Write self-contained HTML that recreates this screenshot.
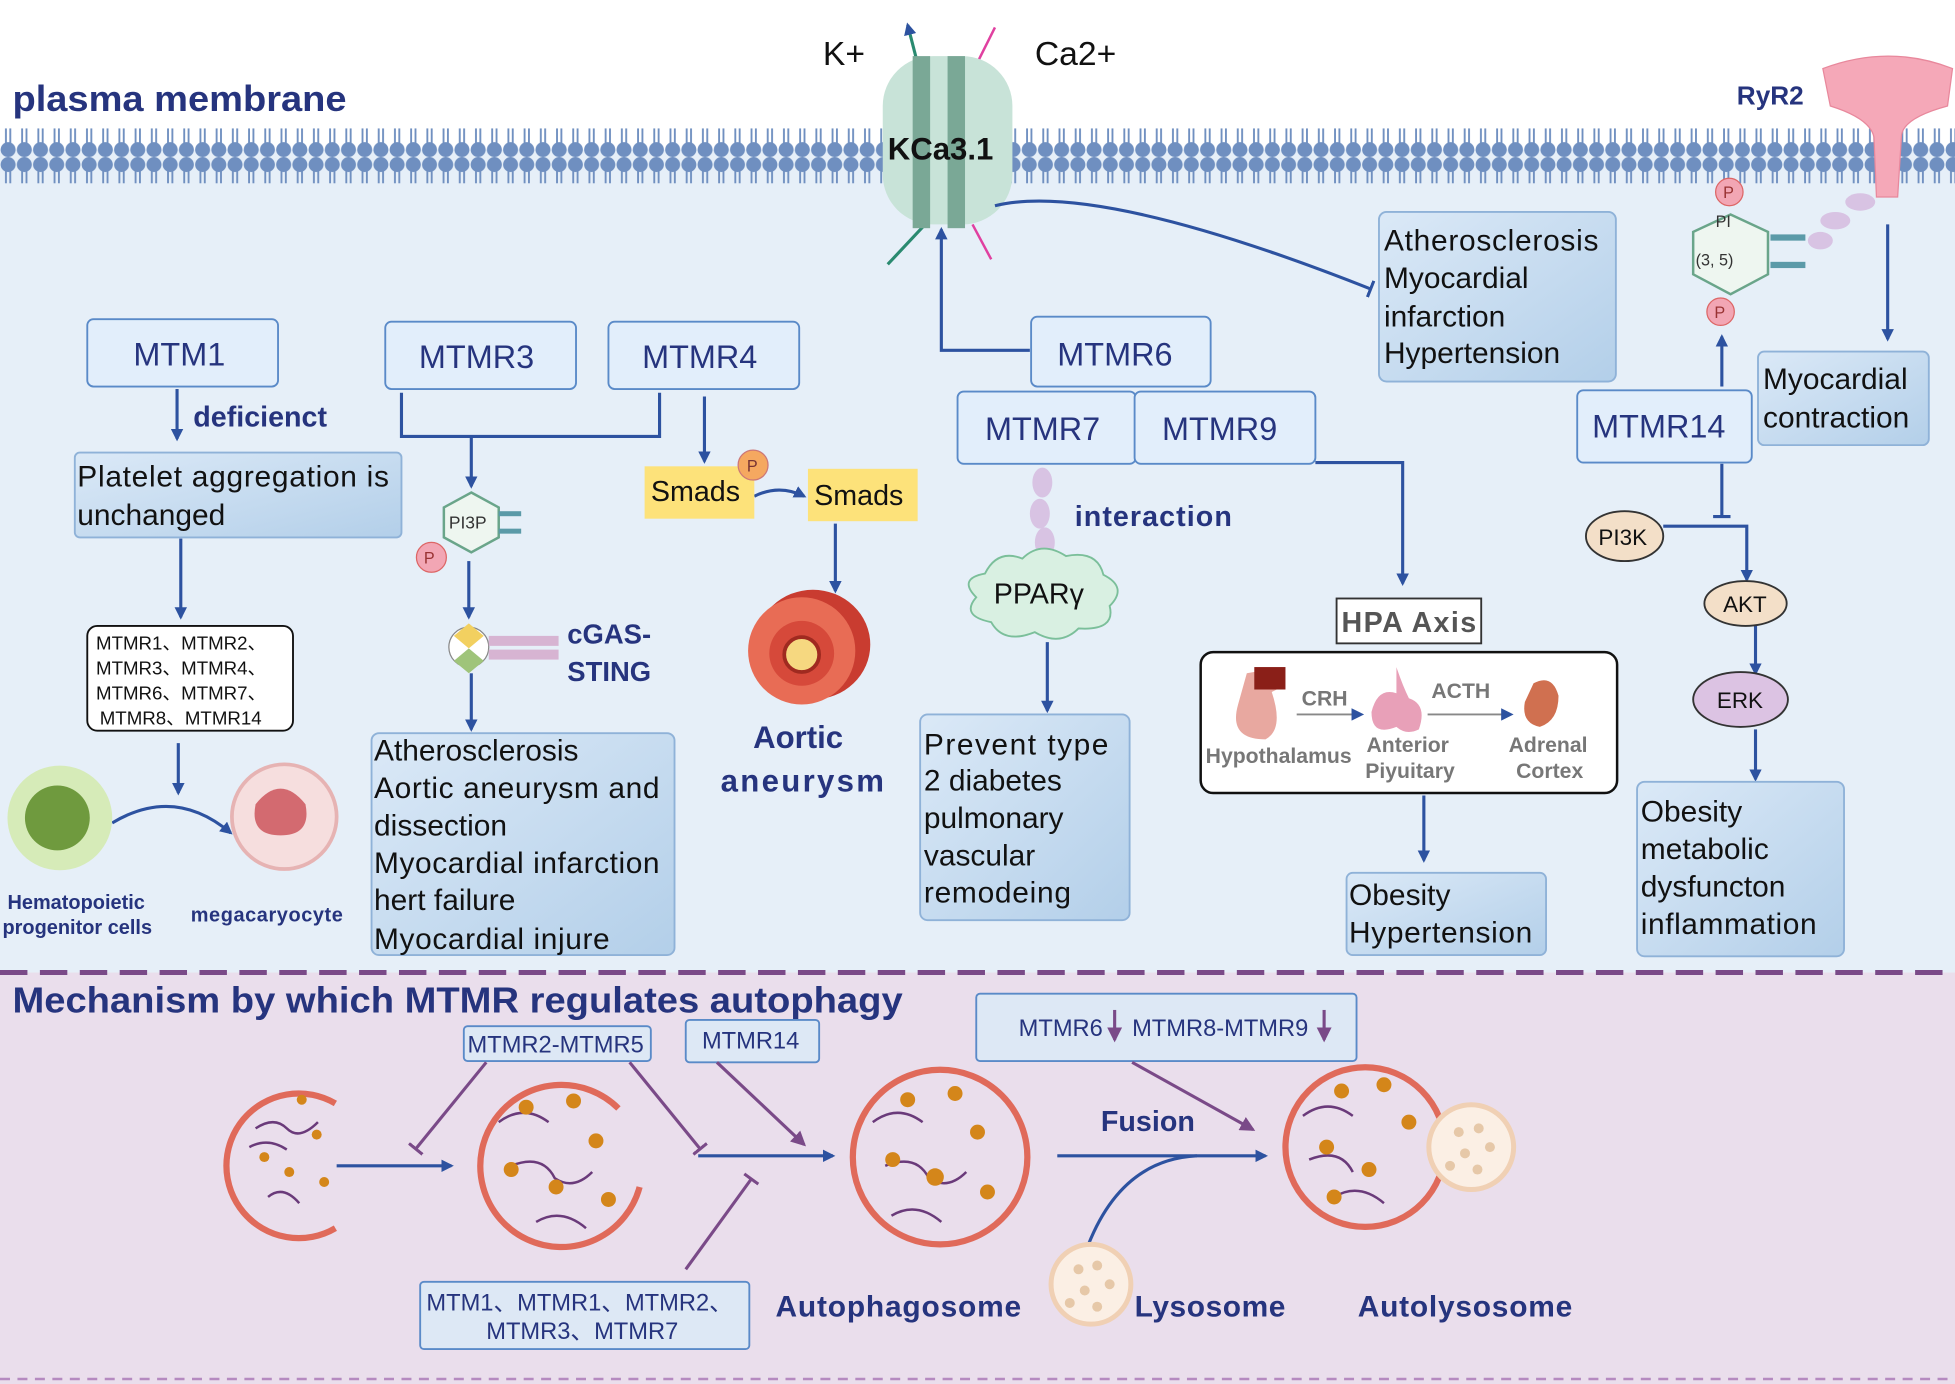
<!DOCTYPE html>
<html><head><meta charset="utf-8"><style>
html,body{margin:0;padding:0;background:#fff}
svg{display:block}
text{font-family:"Liberation Sans",Arial,sans-serif}
</style></head><body>
<svg width="1955" height="1384" viewBox="0 0 1568 1110" preserveAspectRatio="none" xmlns="http://www.w3.org/2000/svg">
<defs>
<linearGradient id="bx" x1="0" y1="0" x2="1" y2="1"><stop offset="0" stop-color="#dbe9f7"/><stop offset="1" stop-color="#b3cfe9"/></linearGradient>
<pattern id="mem" x="0" y="0" width="13" height="42" patternUnits="userSpaceOnUse">
<rect x="4" y="6" width="1.5" height="30" fill="#6f8fc0"/><rect x="7.5" y="6" width="1.5" height="30" fill="#6f8fc0"/>
<circle cx="6.5" cy="6" r="6" fill="#6f8fc0"/><circle cx="6.5" cy="36" r="6" fill="#6f8fc0"/>
</pattern>
<marker id="ab" markerWidth="10" markerHeight="10" refX="8" refY="5" orient="auto" markerUnits="userSpaceOnUse"><path d="M0,0 L10,5 L0,10 z" fill="#2d52a0"/></marker>
<marker id="ap" markerWidth="12" markerHeight="12" refX="10" refY="6" orient="auto" markerUnits="userSpaceOnUse"><path d="M0,0 L12,6 L0,12 z" fill="#7a4a88"/></marker>
<marker id="tb" markerWidth="4" markerHeight="14" refX="2" refY="7" orient="auto" markerUnits="userSpaceOnUse"><rect x="0" y="0" width="2.5" height="14" fill="#2d52a0"/></marker>
<marker id="tp" markerWidth="4" markerHeight="14" refX="2" refY="7" orient="auto" markerUnits="userSpaceOnUse"><rect x="0" y="0" width="2.5" height="14" fill="#7a4a88"/></marker>
</defs>
<rect x="0" y="120" width="1568" height="660" fill="#e6eff8"/>
<rect x="0" y="780" width="1568" height="330" fill="#eadeec"/>
<line x1="0" y1="780" x2="1568" y2="780" stroke="#7a4a88" stroke-width="4" stroke-dasharray="22,10"/>
<line x1="0" y1="1106" x2="1568" y2="1106" stroke="#b58ac0" stroke-width="2" stroke-dasharray="8,6"/>
<rect x="0" y="103" width="1568" height="44" fill="url(#mem)"/>
<text x="10" y="89" font-size="29" font-weight="bold" fill="#26347e" textLength="268" lengthAdjust="spacingAndGlyphs">plasma membrane</text>

<g>
<line x1="712" y1="212" x2="742" y2="180" stroke="#2a8a70" stroke-width="2.5"/>
<line x1="737" y1="55" x2="728" y2="20" stroke="#2a8a70" stroke-width="2.5" marker-end="url(#ab)"/>
<line x1="785" y1="48" x2="798" y2="22" stroke="#e040a0" stroke-width="2"/>
<line x1="780" y1="180" x2="795" y2="208" stroke="#e040a0" stroke-width="2"/>
<rect x="708" y="45" width="104" height="135" rx="40" fill="#c8e3d8"/>
<rect x="732" y="45" width="14" height="138" fill="#7aa896"/><rect x="760" y="45" width="14" height="138" fill="#7aa896"/>
<text x="712" y="128" font-size="25" font-weight="bold" fill="#111">KCa3.1</text>
</g>
<text x="660" y="52" font-size="27" fill="#111">K+</text>
<text x="830" y="52" font-size="27" fill="#111">Ca2+</text>
<path d="M1462,55 Q1515,35 1566,55 L1562,85 Q1525,95 1525,110 L1522,158 L1505,158 L1503,110 Q1500,95 1468,85 z" fill="#f5a8b8" stroke="#e8889c"/>
<text x="1393" y="84" font-size="21" font-weight="bold" fill="#26347e">RyR2</text>
<g fill="#d8c3e3"><ellipse cx="1492" cy="162" rx="12" ry="7"/><ellipse cx="1472" cy="177" rx="12" ry="7"/><ellipse cx="1460" cy="193" rx="10" ry="7"/></g>
<polygon points="1388,172 1418,186 1418,220 1388,236 1358,220 1358,186" fill="#eef6f0" stroke="#6aa58a" stroke-width="2"/>
<text x="1376" y="182" font-size="13" fill="#333">PI</text><text x="1360" y="213" font-size="13" fill="#333">(3, 5)</text>
<rect x="1420" y="188" width="28" height="5" fill="#5b9aa8"/><rect x="1420" y="210" width="28" height="5" fill="#5b9aa8"/>
<circle cx="1387" cy="154" r="11" fill="#f2a6b4" stroke="#d66"/><text x="1382" y="159" font-size="13" fill="#933">P</text>
<circle cx="1380" cy="250" r="11" fill="#f2a6b4" stroke="#d66"/><text x="1375" y="255" font-size="13" fill="#933">P</text>
<line x1="1514" y1="180" x2="1514" y2="272" stroke="#2d52a0" stroke-width="2.5" marker-end="url(#ab)"/>

<g stroke="#2d52a0" stroke-width="2.5" fill="none">
<polyline points="826,281 755,281 755,184" marker-end="url(#ab)"/>
<path d="M798,165 Q880,145 1100,232" marker-end="url(#tb)"/>
<line x1="142" y1="312" x2="142" y2="352" marker-end="url(#ab)"/>
<line x1="145" y1="432" x2="145" y2="495" marker-end="url(#ab)"/>
<line x1="143" y1="596" x2="143" y2="636" marker-end="url(#ab)"/>
<path d="M90,660 Q140,630 185,668" marker-end="url(#ab)"/>
<polyline points="322,315 322,350 529,350 529,315"/>
<line x1="378" y1="350" x2="378" y2="390" marker-end="url(#ab)"/>
<line x1="376" y1="450" x2="376" y2="495" marker-end="url(#ab)"/>
<line x1="378" y1="540" x2="378" y2="585" marker-end="url(#ab)"/>
<line x1="565" y1="318" x2="565" y2="370" marker-end="url(#ab)"/>
<path d="M605,398 Q625,388 645,398" marker-end="url(#ab)"/>
<line x1="670" y1="420" x2="670" y2="474" marker-end="url(#ab)"/>
<polyline points="1055,371 1125,371 1125,468" marker-end="url(#ab)"/>
<line x1="840" y1="515" x2="840" y2="570" marker-end="url(#ab)"/>
<line x1="1142" y1="638" x2="1142" y2="690" marker-end="url(#ab)"/>
<line x1="1381" y1="310" x2="1381" y2="270" marker-end="url(#ab)"/>
<line x1="1381" y1="372" x2="1381" y2="415" marker-end="url(#tb)"/>
<polyline points="1334,422 1401,422 1401,465" marker-end="url(#ab)"/>
<line x1="1408" y1="502" x2="1408" y2="540" marker-end="url(#ab)"/>
<line x1="1408" y1="585" x2="1408" y2="625" marker-end="url(#ab)"/>
</g>

<g stroke="#5a8ac8" stroke-width="1.5">
<rect x="70" y="256" width="153" height="54" rx="5" fill="#e2eefb"/>
<rect x="309" y="258" width="153" height="54" rx="5" fill="#e2eefb"/>
<rect x="488" y="258" width="153" height="54" rx="5" fill="#e2eefb"/>
<rect x="827" y="254" width="144" height="56" rx="5" fill="#e2eefb"/>
<rect x="768" y="314" width="143" height="58" rx="5" fill="#e2eefb"/>
<rect x="910" y="314" width="145" height="58" rx="5" fill="#e2eefb"/>
<rect x="1265" y="313" width="140" height="58" rx="5" fill="#e2eefb"/>
</g>
<g font-size="26" fill="#26347e">
<text x="107" y="293">MTM1</text><text x="336" y="295">MTMR3</text><text x="515" y="295">MTMR4</text>
<text x="848" y="293">MTMR6</text><text x="790" y="353">MTMR7</text><text x="932" y="353">MTMR9</text><text x="1277" y="351">MTMR14</text>
</g>
<g stroke="#8fb2d8" stroke-width="1.5" fill="url(#bx)">
<rect x="60" y="363" width="262" height="68" rx="4"/>
<rect x="1106" y="170" width="190" height="136" rx="6"/>
<rect x="1410" y="282" width="137" height="75" rx="5"/>
<rect x="298" y="588" width="243" height="178" rx="6"/>
<rect x="738" y="573" width="168" height="165" rx="6"/>
<rect x="1080" y="700" width="160" height="66" rx="5"/>
<rect x="1313" y="627" width="166" height="140" rx="6"/>
</g>
<g font-size="24" fill="#111">
<text x="62" y="390" textLength="250">Platelet aggregation is</text><text x="62" y="421">unchanged</text>
<text x="1110" y="201" textLength="172">Atherosclerosis</text><text x="1110" y="231">Myocardial</text><text x="1110" y="262">infarction</text><text x="1110" y="291">Hypertension</text>
<text x="1414" y="312">Myocardial</text><text x="1414" y="343">contraction</text>
<text x="300" y="610">Atherosclerosis</text><text x="300" y="640" textLength="229">Aortic aneurysm and</text><text x="300" y="670">dissection</text><text x="300" y="700" textLength="229">Myocardial infarction</text><text x="300" y="730">hert failure</text><text x="300" y="761" textLength="189">Myocardial injure</text>
<text x="741" y="605" textLength="148">Prevent  type</text><text x="741" y="634">2 diabetes</text><text x="741" y="664">pulmonary</text><text x="741" y="694">vascular</text><text x="741" y="724" textLength="118">remodeing</text>
<text x="1082" y="726">Obesity</text><text x="1082" y="756" textLength="147">Hypertension</text>
<text x="1316" y="659">Obesity</text><text x="1316" y="689">metabolic</text><text x="1316" y="719">dysfuncton</text><text x="1316" y="749" textLength="141">inflammation</text>
</g>
<text x="155" y="342" font-size="23" font-weight="bold" fill="#26347e">deficienct</text>
<rect x="70" y="502" width="165" height="84" rx="8" fill="#fff" stroke="#111" stroke-width="1.5"/>
<g font-size="15" fill="#111"><text x="77" y="521">MTMR1、MTMR2、</text><text x="77" y="541">MTMR3、MTMR4、</text><text x="77" y="561">MTMR6、MTMR7、</text><text x="80" y="581">MTMR8、MTMR14</text></g>
<circle cx="48" cy="656" r="42" fill="#d6ebb8"/><circle cx="46" cy="656" r="26" fill="#6f9a3e"/>
<circle cx="228" cy="655" r="42" fill="#f6dede" stroke="#e6b3b3" stroke-width="3"/><path d="M205,645 q20,-25 40,0 q5,25 -20,25 q-25,0 -20,-25z" fill="#d36a70"/>
<text x="6" y="729" font-size="16" font-weight="bold" fill="#26347e">Hematopoietic</text>
<text x="2" y="749" font-size="16" font-weight="bold" fill="#26347e">progenitor cells</text>
<text x="153" y="739" font-size="16" font-weight="bold" fill="#26347e" textLength="122">megacaryocyte</text>
<polygon points="378,395 400,407 400,431 378,443 356,431 356,407" fill="#eef6f0" stroke="#6aa58a" stroke-width="2"/>
<text x="360" y="424" font-size="14" fill="#333">PI3P</text>
<rect x="400" y="410" width="18" height="4" fill="#5b9aa8"/><rect x="400" y="424" width="18" height="4" fill="#5b9aa8"/>
<circle cx="346" cy="447" r="12" fill="#f2a6b4" stroke="#d66"/><text x="340" y="452" font-size="13" fill="#933">P</text>
<circle cx="376" cy="519" r="16" fill="#fff" stroke="#888"/>
<polygon points="376,500 388,510 376,520 364,510" fill="#f2d060"/><polygon points="376,520 388,530 376,540 364,530" fill="#9fc47a"/>
<rect x="392" y="510" width="56" height="8" fill="#d7b4d2"/><rect x="392" y="521" width="56" height="8" fill="#d7b4d2"/>
<text x="455" y="516" font-size="22" font-weight="bold" fill="#26347e">cGAS-</text><text x="455" y="546" font-size="22" font-weight="bold" fill="#26347e">STING</text>
<rect x="517" y="374" width="88" height="42" fill="#fde27a"/><text x="522" y="402" font-size="23" fill="#111">Smads</text>
<rect x="648" y="376" width="88" height="42" fill="#fde27a"/><text x="653" y="405" font-size="23" fill="#111">Smads</text>
<circle cx="604" cy="373" r="12" fill="#f5a860" stroke="#c77"/><text x="599" y="378" font-size="13" fill="#733">P</text>
<ellipse cx="652" cy="517" rx="46" ry="44" fill="#c93c30"/>
<circle cx="643" cy="522" r="43" fill="#e86c55"/><circle cx="643" cy="524" r="26" fill="#d6493a"/><circle cx="643" cy="525" r="14" fill="#f6d880" stroke="#a02a20" stroke-width="3"/>
<text x="604" y="600" font-size="25" font-weight="bold" fill="#26347e">Aortic</text>
<text x="578" y="635" font-size="25" font-weight="bold" fill="#26347e" textLength="131">aneurysm</text>
<g fill="#d8c3e3"><ellipse cx="836" cy="387" rx="8" ry="12"/><ellipse cx="834" cy="412" rx="8" ry="12"/><ellipse cx="838" cy="435" rx="8" ry="12"/></g>
<text x="862" y="422" font-size="23" font-weight="bold" fill="#26347e" textLength="126">interaction</text>
<path d="M790,460 q10,-20 30,-12 q15,-15 35,-2 q25,-5 30,15 q20,10 5,25 q5,20 -25,18 q-15,15 -35,3 q-25,10 -35,-8 q-25,-5 -12,-20 q-15,-15 7,-19z" fill="#d9f0e2" stroke="#7bbf9a" stroke-width="1.5"/>
<text x="797" y="484" font-size="23" fill="#111">PPARγ</text>
<rect x="1072" y="480" width="116" height="36" fill="#fff" stroke="#333" stroke-width="1.5"/>
<text x="1076" y="507" font-size="23" font-weight="bold" fill="#555" textLength="108">HPA Axis</text>
<rect x="963" y="523" width="334" height="113" rx="10" fill="#fff" stroke="#111" stroke-width="2"/>
<path d="M1000,540 l28,-5 l2,15 l-10,5 q10,30 -5,38 q-30,0 -22,-28z" fill="#e8a8a0"/><rect x="1006" y="535" width="25" height="18" fill="#8a1f18"/>
<path d="M1120,535 q5,15 10,25 q15,5 8,25 q-10,5 -18,-2 q-20,8 -20,-12 q5,-20 20,-15z" fill="#e8a0b8"/>
<path d="M1230,548 q15,-8 20,10 q0,20 -15,25 q-15,-3 -12,-20z" fill="#d07050"/>
<line x1="1040" y1="573" x2="1092" y2="573" stroke="#888" stroke-width="1.5" marker-end="url(#ab)"/>
<line x1="1145" y1="573" x2="1212" y2="573" stroke="#888" stroke-width="1.5" marker-end="url(#ab)"/>
<g font-size="17" font-weight="bold" fill="#777">
<text x="1044" y="566">CRH</text><text x="1148" y="560">ACTH</text>
<text x="967" y="612">Hypothalamus</text><text x="1096" y="603">Anterior</text><text x="1095" y="624">Piyuitary</text>
<text x="1210" y="603">Adrenal</text><text x="1216" y="624">Cortex</text>
</g>
<ellipse cx="1303" cy="430" rx="31" ry="20" fill="#f3dfc8" stroke="#333" stroke-width="1.5"/><text x="1282" y="437" font-size="18" fill="#111">PI3K</text>
<ellipse cx="1400" cy="484" rx="33" ry="18" fill="#f3dfc8" stroke="#333" stroke-width="1.5"/><text x="1382" y="491" font-size="18" fill="#111">AKT</text>
<ellipse cx="1396" cy="561" rx="38" ry="22" fill="#dcc3e3" stroke="#333" stroke-width="1.5"/><text x="1377" y="568" font-size="18" fill="#111">ERK</text>

<text x="10" y="812" font-size="29" font-weight="bold" fill="#26347e" textLength="714" lengthAdjust="spacingAndGlyphs">Mechanism by which MTMR regulates autophagy</text>
<g fill="#dde8f5" stroke="#5a8ac8" stroke-width="1.5">
<rect x="372" y="823" width="150" height="28" rx="3"/><rect x="550" y="818" width="107" height="34" rx="3"/>
<rect x="783" y="797" width="305" height="54" rx="3"/><rect x="337" y="1028" width="264" height="54" rx="3"/>
</g>
<g font-size="19" fill="#26347e">
<text x="375" y="844">MTMR2-MTMR5</text><text x="563" y="841">MTMR14</text>
<text x="817" y="831">MTMR6</text><text x="908" y="831">MTMR8-MTMR9</text>
<text x="342" y="1051">MTM1、MTMR1、MTMR2、</text><text x="390" y="1074">MTMR3、MTMR7</text>
</g>
<g stroke="#7a4a88" stroke-width="2.5" fill="none">
<line x1="894" y1="810" x2="894" y2="834" marker-end="url(#ap)"/>
<line x1="1062" y1="810" x2="1062" y2="834" marker-end="url(#ap)"/>
<line x1="390" y1="852" x2="333" y2="922" marker-end="url(#tp)"/>
<line x1="505" y1="852" x2="562" y2="922" marker-end="url(#tp)"/>
<line x1="575" y1="852" x2="645" y2="918" marker-end="url(#ap)"/>
<line x1="550" y1="1018" x2="603" y2="945" marker-end="url(#tp)"/>
<line x1="908" y1="852" x2="1005" y2="906" marker-end="url(#ap)"/>
</g>
<g stroke="#2d52a0" stroke-width="2.5" fill="none">
<line x1="270" y1="935" x2="362" y2="935" marker-end="url(#ab)"/>
<line x1="560" y1="927" x2="668" y2="927" marker-end="url(#ab)"/>
<line x1="848" y1="927" x2="1015" y2="927" marker-end="url(#ab)"/>
<path d="M873,998 Q900,930 960,927"/>
</g>
<text x="883" y="907" font-size="23" font-weight="bold" fill="#26347e">Fusion</text>
<g stroke="#e06a5a" stroke-width="5" fill="none">
<path d="M269,885 A58,58 0 1 0 269,985"/>
<path d="M496,889 A65,65 0 1 0 513,952"/>
<circle cx="754" cy="928" r="70"/>
<circle cx="1095" cy="920" r="64"/>
</g>
<g stroke="#6a3a7a" stroke-width="2" fill="none">
<path d="M205,905 q15,-10 25,0 q10,10 25,-5"/><path d="M200,920 q15,-8 30,2"/><path d="M215,960 q12,-10 25,5"/>
<path d="M400,900 q20,-15 40,0"/><path d="M410,935 q25,-10 35,10 q15,10 30,-5"/><path d="M430,980 q20,-12 40,5"/>
<path d="M700,900 q20,-15 40,0"/><path d="M710,935 q25,-10 35,10 q15,10 30,-5"/><path d="M715,975 q20,-12 40,5"/>
<path d="M1045,895 q20,-15 40,0"/><path d="M1050,930 q25,-10 35,10"/><path d="M1070,960 q20,-12 40,5"/>
</g>
<g fill="#d4861a">
<circle cx="242" cy="882" r="4"/><circle cx="232" cy="940" r="4"/><circle cx="260" cy="948" r="4"/><circle cx="212" cy="928" r="4"/><circle cx="254" cy="910" r="4"/>
<circle cx="422" cy="888" r="6"/><circle cx="460" cy="883" r="6"/><circle cx="410" cy="938" r="6"/><circle cx="478" cy="915" r="6"/><circle cx="446" cy="952" r="6"/><circle cx="488" cy="962" r="6"/>
<circle cx="728" cy="882" r="6"/><circle cx="766" cy="877" r="6"/><circle cx="716" cy="930" r="6"/><circle cx="784" cy="908" r="6"/><circle cx="750" cy="944" r="7"/><circle cx="792" cy="956" r="6"/>
<circle cx="1076" cy="875" r="6"/><circle cx="1110" cy="870" r="6"/><circle cx="1064" cy="920" r="6"/><circle cx="1130" cy="900" r="6"/><circle cx="1098" cy="938" r="6"/><circle cx="1070" cy="960" r="6"/>
</g>
<circle cx="1180" cy="920" r="34" fill="#fbefe4" stroke="#f0d0b4" stroke-width="4"/>
<circle cx="875" cy="1030" r="32" fill="#fbefe4" stroke="#f0d0b4" stroke-width="4"/>
<g fill="#e6c8a8"><circle cx="1170" cy="908" r="4"/><circle cx="1186" cy="905" r="4"/><circle cx="1195" cy="920" r="4"/><circle cx="1175" cy="925" r="4"/><circle cx="1185" cy="938" r="4"/><circle cx="1163" cy="935" r="4"/>
<circle cx="865" cy="1018" r="4"/><circle cx="880" cy="1015" r="4"/><circle cx="890" cy="1030" r="4"/><circle cx="870" cy="1035" r="4"/><circle cx="880" cy="1048" r="4"/><circle cx="858" cy="1045" r="4"/></g>
<g font-size="24" font-weight="bold" fill="#26347e">
<text x="622" y="1056" textLength="197">Autophagosome</text><text x="910" y="1056" textLength="121">Lysosome</text><text x="1089" y="1056" textLength="172">Autolysosome</text>
</g>
</svg>
</body></html>
